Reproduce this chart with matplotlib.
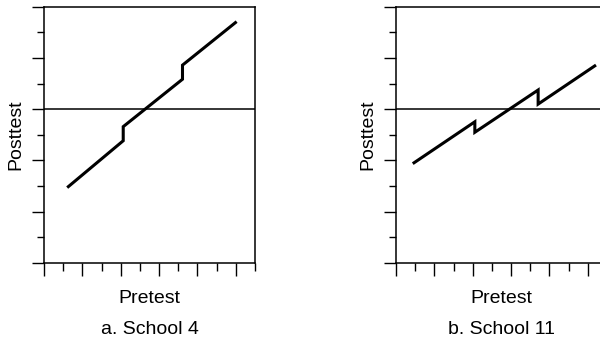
import numpy as np
import matplotlib
matplotlib.use("Agg")
import matplotlib.pyplot as plt
from matplotlib.ticker import MultipleLocator

plt.rcParams['font.family'] = ['Liberation Sans', 'DejaVu Sans']

# regression lines with a discontinuity at each cutoff
school4_pre = [1.27, 4.13, 4.13, 7.22, 7.22, 9.98]
school4_post = [2.98, 4.77, 5.32, 7.17, 7.72, 9.38]

school11_pre = [0.94, 4.11, 4.11, 7.41, 7.41, 10.36]
school11_post = [3.91, 5.51, 5.10, 6.75, 6.20, 7.69]

mean_post = 6
captions = ["a. School 4", "b. School 11"]

fig = plt.figure(figsize=(6.0, 3.43), dpi=100)
W, H = 600.0, 343.0
ax_w, ax_h = 211.0, 256.3
ax_bottom = (H - 263.0) / H


def draw_panel(ax, x, y, caption):
    ax.plot(x, y, color='k', lw=2.2, solid_joinstyle='miter')
    ax.axhline(mean_post, color='k', lw=1.1)
    ax.set_xlim(0, 11)
    ax.set_ylim(0, 10)
    ax.xaxis.set_major_locator(MultipleLocator(2))
    ax.xaxis.set_minor_locator(MultipleLocator(1))
    ax.yaxis.set_major_locator(MultipleLocator(2))
    ax.yaxis.set_minor_locator(MultipleLocator(1))
    ax.tick_params(axis='x', which='major', direction='out', length=9.4, width=1.0)
    ax.tick_params(axis='x', which='minor', direction='out', length=5.8, width=1.0)
    ax.tick_params(axis='y', which='major', direction='out', length=8.8, width=1.0)
    ax.tick_params(axis='y', which='minor', direction='out', length=5.0, width=1.0)
    ax.tick_params(which='both', labelbottom=False, labelleft=False)
    for s in ax.spines.values():
        s.set_linewidth(1.1)
    ax.set_xlabel("Pretest", fontsize=14)
    ax.xaxis.set_label_coords(0.5, -0.105)
    ax.set_ylabel("Posttest", fontsize=14)
    ax.yaxis.set_label_coords(-0.095, 0.5)
    ax.text(0.5, -(330 - 263) / ax_h, caption, transform=ax.transAxes,
            ha='center', va='center', fontsize=14)


ax1 = fig.add_axes([44 / W, ax_bottom, ax_w / W, ax_h / H])
draw_panel(ax1, school4_pre, school4_post, captions[0])

# second panel runs off the right edge of the figure, like the original
ax2 = fig.add_axes([396 / W, ax_bottom, ax_w / W, ax_h / H])
draw_panel(ax2, school11_pre, school11_post, captions[1])

fig.savefig("out.png", dpi=100)
